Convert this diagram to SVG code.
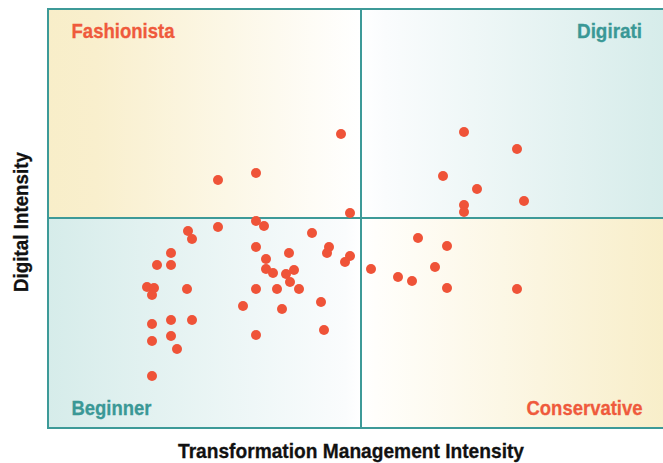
<svg xmlns="http://www.w3.org/2000/svg" width="663" height="463" viewBox="0 0 663 463">
<style>
.lbl{font-family:"Liberation Sans",Arial,sans-serif;font-weight:bold;font-size:21px}
.red{fill:#ef5a3c;stroke:#ef5a3c;stroke-width:0.3}
.teal{fill:#3a9896;stroke:#3a9896;stroke-width:0.3}
.axis{fill:#111;stroke:#111;stroke-width:0.3;font-size:21px}
.grid{stroke:#3d9a98;stroke-width:2;fill:none}
.dot{fill:#ef5338}
</style>
<defs>
<linearGradient id="gFash" x1="0" y1="0" x2="1" y2="0">
<stop offset="0" stop-color="#f8eec9"/><stop offset="0.15" stop-color="#f9efcd"/><stop offset="1" stop-color="#ffffff"/>
</linearGradient>
<linearGradient id="gDigi" x1="0" y1="0" x2="1" y2="0">
<stop offset="0" stop-color="#ffffff"/><stop offset="0.08" stop-color="#fafcfd"/><stop offset="1" stop-color="#d6ecea"/>
</linearGradient>
<linearGradient id="gBeg" x1="0" y1="0" x2="1" y2="0">
<stop offset="0" stop-color="#d6ecea"/><stop offset="0.95" stop-color="#fafcfd"/><stop offset="1" stop-color="#ffffff"/>
</linearGradient>
<linearGradient id="gCons" x1="0" y1="0" x2="1" y2="0">
<stop offset="0" stop-color="#ffffff"/><stop offset="0.05" stop-color="#fffefb"/><stop offset="1" stop-color="#f8eec9"/>
</linearGradient>
</defs>
<rect width="663" height="463" fill="#ffffff"/>
<g id="quadrant-fashionista">
<rect x="48" y="9" width="313" height="209" fill="url(#gFash)"/>
<text class="lbl red" x="71.5" y="37.5" textLength="103" lengthAdjust="spacingAndGlyphs">Fashionista</text>
</g>
<g id="quadrant-digirati">
<rect x="361" y="9" width="305" height="209" fill="url(#gDigi)"/>
<text class="lbl teal" x="577" y="37.5" textLength="65" lengthAdjust="spacingAndGlyphs">Digirati</text>
</g>
<g id="quadrant-beginner">
<rect x="48" y="218" width="313" height="210" fill="url(#gBeg)"/>
<text class="lbl teal" x="71.5" y="415" textLength="80" lengthAdjust="spacingAndGlyphs">Beginner</text>
</g>
<g id="quadrant-conservative">
<rect x="361" y="218" width="305" height="210" fill="url(#gCons)"/>
<text class="lbl red" x="526.5" y="415" textLength="116" lengthAdjust="spacingAndGlyphs">Conservative</text>
</g>
<g id="grid">
<rect class="grid" x="48" y="9" width="620" height="419"/>
<line class="grid" x1="361" y1="9" x2="361" y2="428"/>
<line class="grid" x1="48" y1="218" x2="668" y2="218"/>
</g>
<g id="points">
<circle class="dot" cx="341" cy="134" r="5"/>
<circle class="dot" cx="218" cy="180" r="5"/>
<circle class="dot" cx="256" cy="173" r="5"/>
<circle class="dot" cx="350" cy="213" r="5"/>
<circle class="dot" cx="464" cy="132" r="5"/>
<circle class="dot" cx="517" cy="149" r="5"/>
<circle class="dot" cx="443" cy="176" r="5"/>
<circle class="dot" cx="477" cy="189" r="5"/>
<circle class="dot" cx="524" cy="201" r="5"/>
<circle class="dot" cx="464" cy="205" r="5"/>
<circle class="dot" cx="464" cy="212" r="5"/>
<circle class="dot" cx="188" cy="231" r="5"/>
<circle class="dot" cx="192" cy="239" r="5"/>
<circle class="dot" cx="218" cy="227" r="5"/>
<circle class="dot" cx="256" cy="221" r="5"/>
<circle class="dot" cx="264" cy="226" r="5"/>
<circle class="dot" cx="312" cy="233" r="5"/>
<circle class="dot" cx="256" cy="247" r="5"/>
<circle class="dot" cx="289" cy="253" r="5"/>
<circle class="dot" cx="329" cy="247" r="5"/>
<circle class="dot" cx="327" cy="253" r="5"/>
<circle class="dot" cx="350" cy="256" r="5"/>
<circle class="dot" cx="345" cy="262" r="5"/>
<circle class="dot" cx="371" cy="269" r="5"/>
<circle class="dot" cx="171" cy="253" r="5"/>
<circle class="dot" cx="157" cy="265" r="5"/>
<circle class="dot" cx="171" cy="265" r="5"/>
<circle class="dot" cx="266" cy="259" r="5"/>
<circle class="dot" cx="266" cy="269" r="5"/>
<circle class="dot" cx="273" cy="273" r="5"/>
<circle class="dot" cx="286" cy="274" r="5"/>
<circle class="dot" cx="294" cy="270" r="5"/>
<circle class="dot" cx="290" cy="282" r="5"/>
<circle class="dot" cx="147" cy="287" r="5"/>
<circle class="dot" cx="154" cy="288" r="5"/>
<circle class="dot" cx="152" cy="295" r="5"/>
<circle class="dot" cx="187" cy="289" r="5"/>
<circle class="dot" cx="256" cy="289" r="5"/>
<circle class="dot" cx="277" cy="289" r="5"/>
<circle class="dot" cx="299" cy="289" r="5"/>
<circle class="dot" cx="243" cy="306" r="5"/>
<circle class="dot" cx="282" cy="309" r="5"/>
<circle class="dot" cx="321" cy="302" r="5"/>
<circle class="dot" cx="152" cy="324" r="5"/>
<circle class="dot" cx="171" cy="320" r="5"/>
<circle class="dot" cx="192" cy="320" r="5"/>
<circle class="dot" cx="152" cy="341" r="5"/>
<circle class="dot" cx="171" cy="336" r="5"/>
<circle class="dot" cx="177" cy="349" r="5"/>
<circle class="dot" cx="256" cy="335" r="5"/>
<circle class="dot" cx="324" cy="330" r="5"/>
<circle class="dot" cx="152" cy="376" r="5"/>
<circle class="dot" cx="418" cy="238" r="5"/>
<circle class="dot" cx="447" cy="246" r="5"/>
<circle class="dot" cx="435" cy="267" r="5"/>
<circle class="dot" cx="398" cy="277" r="5"/>
<circle class="dot" cx="412" cy="281" r="5"/>
<circle class="dot" cx="447" cy="288" r="5"/>
<circle class="dot" cx="517" cy="289" r="5"/>
</g>
<g id="axis-labels">
<text class="lbl axis" x="351" y="458" text-anchor="middle" textLength="346" lengthAdjust="spacingAndGlyphs">Transformation Management Intensity</text>
<text class="lbl axis" transform="translate(28,222) rotate(-90)" x="0" y="0" text-anchor="middle" textLength="140" lengthAdjust="spacingAndGlyphs">Digital Intensity</text>
</g>
</svg>
